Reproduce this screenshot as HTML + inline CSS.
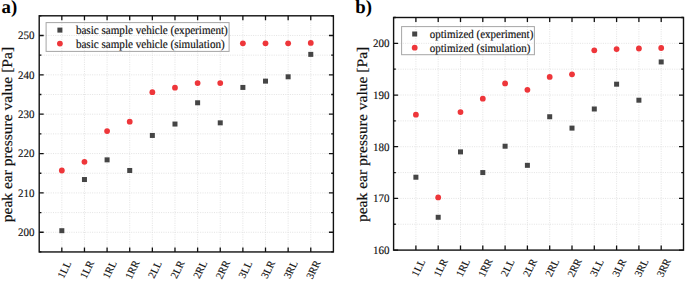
<!DOCTYPE html>
<html><head><meta charset="utf-8"><style>
html,body{margin:0;padding:0;background:#fff;width:685px;height:281px;overflow:hidden}
svg{display:block}
text{text-rendering:geometricPrecision}
.t{font-family:"Liberation Serif",serif;font-size:11px;fill:#111}
.xl{font-family:"Liberation Serif",serif;font-size:10.7px;fill:#111}
.tl{font-family:"Liberation Serif",serif;font-size:11.1px;fill:#111}
.tr{font-family:"Liberation Serif",serif;font-size:11.0px;fill:#111}
.ti{font-family:"Liberation Serif",serif;font-size:14.6px;fill:#111}
.lab{font-family:"Liberation Serif",serif;font-size:18.8px;fill:#000;font-weight:bold}
</style></head><body>
<svg width="685" height="281" viewBox="0 0 685 281">
<g stroke="#e0e0e0" stroke-width="0.9" stroke-dasharray="1 1.3"><line x1="61.83" y1="15.8" x2="61.83" y2="251.95"/><line x1="84.46" y1="15.8" x2="84.46" y2="251.95"/><line x1="107.09" y1="15.8" x2="107.09" y2="251.95"/><line x1="129.72" y1="15.8" x2="129.72" y2="251.95"/><line x1="152.35" y1="15.8" x2="152.35" y2="251.95"/><line x1="174.98" y1="15.8" x2="174.98" y2="251.95"/><line x1="197.62" y1="15.8" x2="197.62" y2="251.95"/><line x1="220.25" y1="15.8" x2="220.25" y2="251.95"/><line x1="242.88" y1="15.8" x2="242.88" y2="251.95"/><line x1="265.51" y1="15.8" x2="265.51" y2="251.95"/><line x1="288.14" y1="15.8" x2="288.14" y2="251.95"/><line x1="310.77" y1="15.8" x2="310.77" y2="251.95"/><line x1="39.2" y1="232.27" x2="333.4" y2="232.27"/><line x1="39.2" y1="212.59" x2="333.4" y2="212.59"/><line x1="39.2" y1="192.91" x2="333.4" y2="192.91"/><line x1="39.2" y1="173.23" x2="333.4" y2="173.23"/><line x1="39.2" y1="153.55" x2="333.4" y2="153.55"/><line x1="39.2" y1="133.88" x2="333.4" y2="133.88"/><line x1="39.2" y1="114.2" x2="333.4" y2="114.2"/><line x1="39.2" y1="94.52" x2="333.4" y2="94.52"/><line x1="39.2" y1="74.84" x2="333.4" y2="74.84"/><line x1="39.2" y1="55.16" x2="333.4" y2="55.16"/><line x1="39.2" y1="35.48" x2="333.4" y2="35.48"/></g>
<rect x="46.1" y="22.6" width="183" height="28.8" fill="none" stroke="#a6a6a6" stroke-width="1"/>
<path d="M61.83 251.95v-4.5M61.83 15.8v4.5M84.46 251.95v-4.5M84.46 15.8v4.5M107.09 251.95v-4.5M107.09 15.8v4.5M129.72 251.95v-4.5M129.72 15.8v4.5M152.35 251.95v-4.5M152.35 15.8v4.5M174.98 251.95v-4.5M174.98 15.8v4.5M197.62 251.95v-4.5M197.62 15.8v4.5M220.25 251.95v-4.5M220.25 15.8v4.5M242.88 251.95v-4.5M242.88 15.8v4.5M265.51 251.95v-4.5M265.51 15.8v4.5M288.14 251.95v-4.5M288.14 15.8v4.5M310.77 251.95v-4.5M310.77 15.8v4.5M39.2 251.95h2.2M333.4 251.95h-2.2M39.2 232.27h4.5M333.4 232.27h-4.5M39.2 212.59h2.2M333.4 212.59h-2.2M39.2 192.91h4.5M333.4 192.91h-4.5M39.2 173.23h2.2M333.4 173.23h-2.2M39.2 153.55h4.5M333.4 153.55h-4.5M39.2 133.88h2.2M333.4 133.88h-2.2M39.2 114.2h4.5M333.4 114.2h-4.5M39.2 94.52h2.2M333.4 94.52h-2.2M39.2 74.84h4.5M333.4 74.84h-4.5M39.2 55.16h2.2M333.4 55.16h-2.2M39.2 35.48h4.5M333.4 35.48h-4.5M39.2 15.8h2.2M333.4 15.8h-2.2" stroke="#111" stroke-width="1.3" fill="none"/>
<rect x="39.2" y="15.8" width="294.2" height="236.15" fill="none" stroke="#111" stroke-width="1.4"/>
<rect x="59.33" y="228.2" width="5" height="5" fill="#454545"/><rect x="81.96" y="177.03" width="5" height="5" fill="#454545"/><rect x="104.59" y="157.35" width="5" height="5" fill="#454545"/><rect x="127.22" y="167.98" width="5" height="5" fill="#454545"/><rect x="149.85" y="132.95" width="5" height="5" fill="#454545"/><rect x="172.48" y="121.54" width="5" height="5" fill="#454545"/><rect x="195.12" y="100.28" width="5" height="5" fill="#454545"/><rect x="217.75" y="120.35" width="5" height="5" fill="#454545"/><rect x="240.38" y="84.93" width="5" height="5" fill="#454545"/><rect x="263.01" y="78.63" width="5" height="5" fill="#454545"/><rect x="285.64" y="74.31" width="5" height="5" fill="#454545"/><rect x="308.27" y="51.87" width="5" height="5" fill="#454545"/><circle cx="61.83" cy="170.48" r="2.9" fill="#ee363a"/><circle cx="84.46" cy="161.82" r="2.9" fill="#ee363a"/><circle cx="107.09" cy="131.12" r="2.9" fill="#ee363a"/><circle cx="129.72" cy="121.67" r="2.9" fill="#ee363a"/><circle cx="152.35" cy="92.16" r="2.9" fill="#ee363a"/><circle cx="174.98" cy="87.63" r="2.9" fill="#ee363a"/><circle cx="197.62" cy="83.1" r="2.9" fill="#ee363a"/><circle cx="220.25" cy="83.1" r="2.9" fill="#ee363a"/><circle cx="242.88" cy="43.35" r="2.9" fill="#ee363a"/><circle cx="265.51" cy="43.35" r="2.9" fill="#ee363a"/><circle cx="288.14" cy="43.35" r="2.9" fill="#ee363a"/><circle cx="310.77" cy="42.96" r="2.9" fill="#ee363a"/>
<rect x="57.4" y="27.6" width="5" height="5" fill="#454545"/>
<circle cx="59.9" cy="43.6" r="2.9" fill="#ee363a"/>
<text transform="translate(75.9 34.1) scale(1 1.08)" class="tl" stroke="#111" stroke-width="0.16">basic sample vehicle (experiment)</text>
<text transform="translate(75.9 47.6) scale(1 1.08)" class="tl" stroke="#111" stroke-width="0.16">basic sample vehicle (simulation)</text>
<text transform="translate(34.6 236.07) scale(1 1.04)" class="t" text-anchor="end" stroke="#111" stroke-width="0.15">200</text>
<text transform="translate(34.6 196.71) scale(1 1.04)" class="t" text-anchor="end" stroke="#111" stroke-width="0.15">210</text>
<text transform="translate(34.6 157.35) scale(1 1.04)" class="t" text-anchor="end" stroke="#111" stroke-width="0.15">220</text>
<text transform="translate(34.6 118) scale(1 1.04)" class="t" text-anchor="end" stroke="#111" stroke-width="0.15">230</text>
<text transform="translate(34.6 78.64) scale(1 1.04)" class="t" text-anchor="end" stroke="#111" stroke-width="0.15">240</text>
<text transform="translate(34.6 39.28) scale(1 1.04)" class="t" text-anchor="end" stroke="#111" stroke-width="0.15">250</text>
<text transform="translate(64.33 269.55) scale(1 0.97) rotate(-64)" class="xl" text-anchor="middle" dy="3.6" stroke="#111" stroke-width="0.12">1LL</text>
<text transform="translate(86.96 269.55) scale(1 0.97) rotate(-64)" class="xl" text-anchor="middle" dy="3.6" stroke="#111" stroke-width="0.12">1LR</text>
<text transform="translate(109.59 269.55) scale(1 0.97) rotate(-64)" class="xl" text-anchor="middle" dy="3.6" stroke="#111" stroke-width="0.12">1RL</text>
<text transform="translate(132.22 269.55) scale(1 0.97) rotate(-64)" class="xl" text-anchor="middle" dy="3.6" stroke="#111" stroke-width="0.12">1RR</text>
<text transform="translate(154.85 269.55) scale(1 0.97) rotate(-64)" class="xl" text-anchor="middle" dy="3.6" stroke="#111" stroke-width="0.12">2LL</text>
<text transform="translate(177.48 269.55) scale(1 0.97) rotate(-64)" class="xl" text-anchor="middle" dy="3.6" stroke="#111" stroke-width="0.12">2LR</text>
<text transform="translate(200.12 269.55) scale(1 0.97) rotate(-64)" class="xl" text-anchor="middle" dy="3.6" stroke="#111" stroke-width="0.12">2RL</text>
<text transform="translate(222.75 269.55) scale(1 0.97) rotate(-64)" class="xl" text-anchor="middle" dy="3.6" stroke="#111" stroke-width="0.12">2RR</text>
<text transform="translate(245.38 269.55) scale(1 0.97) rotate(-64)" class="xl" text-anchor="middle" dy="3.6" stroke="#111" stroke-width="0.12">3LL</text>
<text transform="translate(268.01 269.55) scale(1 0.97) rotate(-64)" class="xl" text-anchor="middle" dy="3.6" stroke="#111" stroke-width="0.12">3LR</text>
<text transform="translate(290.64 269.55) scale(1 0.97) rotate(-64)" class="xl" text-anchor="middle" dy="3.6" stroke="#111" stroke-width="0.12">3RL</text>
<text transform="translate(313.27 269.55) scale(1 0.97) rotate(-64)" class="xl" text-anchor="middle" dy="3.6" stroke="#111" stroke-width="0.12">3RR</text>
<text transform="translate(11.8 222.3) scale(1 1.066) rotate(-90)" class="ti" stroke="#111" stroke-width="0.18">peak ear pressure value [Pa]</text>
<text transform="translate(1.5 13)" class="lab" stroke="#000" stroke-width="0.03">a)</text>
<g stroke="#e0e0e0" stroke-width="0.9" stroke-dasharray="1 1.3"><line x1="415.9" y1="17.5" x2="415.9" y2="250.1"/><line x1="438.2" y1="17.5" x2="438.2" y2="250.1"/><line x1="460.5" y1="17.5" x2="460.5" y2="250.1"/><line x1="482.8" y1="17.5" x2="482.8" y2="250.1"/><line x1="505.1" y1="17.5" x2="505.1" y2="250.1"/><line x1="527.4" y1="17.5" x2="527.4" y2="250.1"/><line x1="549.7" y1="17.5" x2="549.7" y2="250.1"/><line x1="572" y1="17.5" x2="572" y2="250.1"/><line x1="594.3" y1="17.5" x2="594.3" y2="250.1"/><line x1="616.6" y1="17.5" x2="616.6" y2="250.1"/><line x1="638.9" y1="17.5" x2="638.9" y2="250.1"/><line x1="661.2" y1="17.5" x2="661.2" y2="250.1"/><line x1="393.6" y1="224.26" x2="683.5" y2="224.26"/><line x1="393.6" y1="198.41" x2="683.5" y2="198.41"/><line x1="393.6" y1="172.57" x2="683.5" y2="172.57"/><line x1="393.6" y1="146.72" x2="683.5" y2="146.72"/><line x1="393.6" y1="120.88" x2="683.5" y2="120.88"/><line x1="393.6" y1="95.03" x2="683.5" y2="95.03"/><line x1="393.6" y1="69.19" x2="683.5" y2="69.19"/><line x1="393.6" y1="43.34" x2="683.5" y2="43.34"/></g>
<rect x="401.6" y="26.6" width="132.8" height="28.1" fill="none" stroke="#a6a6a6" stroke-width="1"/>
<path d="M415.9 250.1v-4.5M415.9 17.5v4.5M438.2 250.1v-4.5M438.2 17.5v4.5M460.5 250.1v-4.5M460.5 17.5v4.5M482.8 250.1v-4.5M482.8 17.5v4.5M505.1 250.1v-4.5M505.1 17.5v4.5M527.4 250.1v-4.5M527.4 17.5v4.5M549.7 250.1v-4.5M549.7 17.5v4.5M572 250.1v-4.5M572 17.5v4.5M594.3 250.1v-4.5M594.3 17.5v4.5M616.6 250.1v-4.5M616.6 17.5v4.5M638.9 250.1v-4.5M638.9 17.5v4.5M661.2 250.1v-4.5M661.2 17.5v4.5M393.6 250.1h4.5M683.5 250.1h-4.5M393.6 224.26h2.2M683.5 224.26h-2.2M393.6 198.41h4.5M683.5 198.41h-4.5M393.6 172.57h2.2M683.5 172.57h-2.2M393.6 146.72h4.5M683.5 146.72h-4.5M393.6 120.88h2.2M683.5 120.88h-2.2M393.6 95.03h4.5M683.5 95.03h-4.5M393.6 69.19h2.2M683.5 69.19h-2.2M393.6 43.34h4.5M683.5 43.34h-4.5M393.6 17.5h2.2M683.5 17.5h-2.2" stroke="#111" stroke-width="1.3" fill="none"/>
<rect x="393.6" y="17.5" width="289.9" height="232.6" fill="none" stroke="#111" stroke-width="1.4"/>
<rect x="413.4" y="174.72" width="5" height="5" fill="#454545"/><rect x="435.7" y="214.78" width="5" height="5" fill="#454545"/><rect x="458" y="149.39" width="5" height="5" fill="#454545"/><rect x="480.3" y="170.07" width="5" height="5" fill="#454545"/><rect x="502.6" y="143.71" width="5" height="5" fill="#454545"/><rect x="524.9" y="162.83" width="5" height="5" fill="#454545"/><rect x="547.2" y="114.24" width="5" height="5" fill="#454545"/><rect x="569.5" y="125.61" width="5" height="5" fill="#454545"/><rect x="591.8" y="106.49" width="5" height="5" fill="#454545"/><rect x="614.1" y="81.68" width="5" height="5" fill="#454545"/><rect x="636.4" y="97.7" width="5" height="5" fill="#454545"/><rect x="658.7" y="59.45" width="5" height="5" fill="#454545"/><circle cx="415.9" cy="114.68" r="2.9" fill="#ee363a"/><circle cx="438.2" cy="197.38" r="2.9" fill="#ee363a"/><circle cx="460.5" cy="112.09" r="2.9" fill="#ee363a"/><circle cx="482.8" cy="98.65" r="2.9" fill="#ee363a"/><circle cx="505.1" cy="83.4" r="2.9" fill="#ee363a"/><circle cx="527.4" cy="89.86" r="2.9" fill="#ee363a"/><circle cx="549.7" cy="76.94" r="2.9" fill="#ee363a"/><circle cx="572" cy="74.36" r="2.9" fill="#ee363a"/><circle cx="594.3" cy="50.32" r="2.9" fill="#ee363a"/><circle cx="616.6" cy="49.03" r="2.9" fill="#ee363a"/><circle cx="638.9" cy="48.51" r="2.9" fill="#ee363a"/><circle cx="661.2" cy="48" r="2.9" fill="#ee363a"/>
<rect x="412.2" y="31.5" width="5" height="5" fill="#454545"/>
<circle cx="414.7" cy="47.7" r="2.9" fill="#ee363a"/>
<text transform="translate(429.8 38) scale(1 1.08)" class="tr" stroke="#111" stroke-width="0.16">optimized (experiment)</text>
<text transform="translate(429.8 51.7) scale(1 1.08)" class="tr" stroke="#111" stroke-width="0.16">optimized (simulation)</text>
<text transform="translate(389.5 253.9) scale(1 1.04)" class="t" text-anchor="end" stroke="#111" stroke-width="0.15">160</text>
<text transform="translate(389.5 202.21) scale(1 1.04)" class="t" text-anchor="end" stroke="#111" stroke-width="0.15">170</text>
<text transform="translate(389.5 150.52) scale(1 1.04)" class="t" text-anchor="end" stroke="#111" stroke-width="0.15">180</text>
<text transform="translate(389.5 98.83) scale(1 1.04)" class="t" text-anchor="end" stroke="#111" stroke-width="0.15">190</text>
<text transform="translate(389.5 47.14) scale(1 1.04)" class="t" text-anchor="end" stroke="#111" stroke-width="0.15">200</text>
<text transform="translate(418.4 267.7) scale(1 0.97) rotate(-64)" class="xl" text-anchor="middle" dy="3.6" stroke="#111" stroke-width="0.12">1LL</text>
<text transform="translate(440.7 267.7) scale(1 0.97) rotate(-64)" class="xl" text-anchor="middle" dy="3.6" stroke="#111" stroke-width="0.12">1LR</text>
<text transform="translate(463 267.7) scale(1 0.97) rotate(-64)" class="xl" text-anchor="middle" dy="3.6" stroke="#111" stroke-width="0.12">1RL</text>
<text transform="translate(485.3 267.7) scale(1 0.97) rotate(-64)" class="xl" text-anchor="middle" dy="3.6" stroke="#111" stroke-width="0.12">1RR</text>
<text transform="translate(507.6 267.7) scale(1 0.97) rotate(-64)" class="xl" text-anchor="middle" dy="3.6" stroke="#111" stroke-width="0.12">2LL</text>
<text transform="translate(529.9 267.7) scale(1 0.97) rotate(-64)" class="xl" text-anchor="middle" dy="3.6" stroke="#111" stroke-width="0.12">2LR</text>
<text transform="translate(552.2 267.7) scale(1 0.97) rotate(-64)" class="xl" text-anchor="middle" dy="3.6" stroke="#111" stroke-width="0.12">2RL</text>
<text transform="translate(574.5 267.7) scale(1 0.97) rotate(-64)" class="xl" text-anchor="middle" dy="3.6" stroke="#111" stroke-width="0.12">2RR</text>
<text transform="translate(596.8 267.7) scale(1 0.97) rotate(-64)" class="xl" text-anchor="middle" dy="3.6" stroke="#111" stroke-width="0.12">3LL</text>
<text transform="translate(619.1 267.7) scale(1 0.97) rotate(-64)" class="xl" text-anchor="middle" dy="3.6" stroke="#111" stroke-width="0.12">3LR</text>
<text transform="translate(641.4 267.7) scale(1 0.97) rotate(-64)" class="xl" text-anchor="middle" dy="3.6" stroke="#111" stroke-width="0.12">3RL</text>
<text transform="translate(663.7 267.7) scale(1 0.97) rotate(-64)" class="xl" text-anchor="middle" dy="3.6" stroke="#111" stroke-width="0.12">3RR</text>
<text transform="translate(366.8 222.1) scale(1 1.066) rotate(-90)" class="ti" stroke="#111" stroke-width="0.18">peak ear pressure value [Pa]</text>
<text transform="translate(355.3 13)" class="lab" stroke="#000" stroke-width="0.03">b)</text>
</svg>
</body></html>
